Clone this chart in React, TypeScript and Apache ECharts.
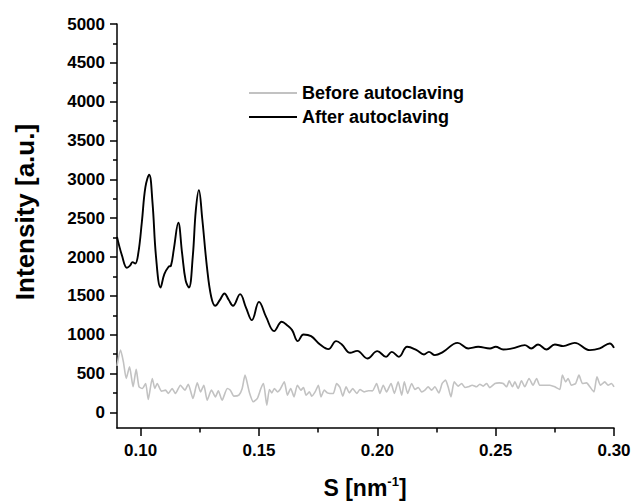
import React, { useEffect, useRef } from "react";
import * as echarts from "echarts";

// Tick positions
const xMajorTicks = [0.1, 0.15, 0.2, 0.25, 0.3];
const xMinorTicks = [0.125, 0.175, 0.225, 0.275];
const yMajorTicks = [0, 500, 1000, 1500, 2000, 2500, 3000, 3500, 4000, 4500, 5000];
const yMinorTicks = [250, 750, 1250, 1750, 2250, 2750, 3250, 3750, 4250, 4750];

const seriesNames = ["Before autoclaving", "After autoclaving"];

// Before autoclaving (gray)
const sBefore = [
  0.09, 0.0915, 0.0927, 0.0939, 0.0953, 0.0968, 0.0981, 0.0993, 0.1007, 0.1021,
  0.1032, 0.1049, 0.106, 0.107, 0.1088, 0.1105, 0.1117, 0.1133, 0.1147, 0.1168,
  0.1187, 0.1201, 0.1221, 0.1239, 0.1253, 0.1267, 0.1281, 0.1299, 0.1316, 0.1328,
  0.1344, 0.1366, 0.1379, 0.1394, 0.1415, 0.1429, 0.1441, 0.146, 0.1476, 0.1493,
  0.1508, 0.1519, 0.1533, 0.1544, 0.1554, 0.1565, 0.1578, 0.1589, 0.1607, 0.162,
  0.1634, 0.1648, 0.1662, 0.1677, 0.1688, 0.1699, 0.1713, 0.1723, 0.1737, 0.1751,
  0.1762, 0.1776, 0.1789, 0.18, 0.1814, 0.1828, 0.1842, 0.1854, 0.1868, 0.1882,
  0.1896, 0.1913, 0.1927, 0.1944, 0.1962, 0.1979, 0.1997, 0.2011, 0.2025, 0.2039,
  0.2058, 0.2072, 0.2088, 0.2103, 0.2114, 0.2128, 0.2145, 0.2159, 0.2173, 0.2187,
  0.2201, 0.2215, 0.2229, 0.2243, 0.226, 0.2274, 0.2288, 0.2299, 0.2311, 0.2325,
  0.2342, 0.2356, 0.237, 0.2384, 0.2401, 0.2419, 0.2433, 0.2447, 0.2462, 0.2475,
  0.2497, 0.2515, 0.2532, 0.2546, 0.2557, 0.2571, 0.2581, 0.2595, 0.2609, 0.2623,
  0.2641, 0.2658, 0.2673, 0.2686, 0.2708, 0.2729, 0.275, 0.2771, 0.2782, 0.2796,
  0.2806, 0.282, 0.2838, 0.2852, 0.2867, 0.2884, 0.2898, 0.2915, 0.2928, 0.2943,
  0.2961, 0.2975, 0.2989, 0.3,
];
const intensityBefore = [
  600, 802, 652, 438, 587, 330, 554, 330, 309, 373,
  167, 438, 309, 373, 274, 287, 245, 309, 245, 351,
  287, 364, 180, 381, 265, 351, 158, 287, 201, 278,
  158, 309, 287, 210, 223, 309, 480, 252, 137, 180,
  309, 373, 94, 296, 252, 309, 265, 296, 394, 223,
  309, 201, 351, 287, 322, 223, 265, 210, 265, 351,
  201, 287, 252, 245, 245, 373, 322, 210, 330, 252,
  309, 245, 296, 265, 280, 278, 373, 245, 351, 265,
  373, 245, 394, 223, 394, 245, 373, 296, 322, 265,
  287, 330, 287, 330, 252, 373, 416, 330, 201, 394,
  339, 373, 322, 330, 351, 330, 364, 339, 373, 320,
  373, 381, 373, 330, 407, 330, 394, 309, 407, 330,
  438, 351, 438, 351, 351, 351, 330, 296, 480, 394,
  438, 351, 373, 480, 373, 381, 330, 265, 458, 351,
  394, 351, 373, 330,
];

// After autoclaving (black)
const sAfter = [
  0.09, 0.0921, 0.0942, 0.0955, 0.0966, 0.0977, 0.099, 0.1005, 0.102, 0.1036,
  0.105, 0.1065, 0.1084, 0.11, 0.1118, 0.1128, 0.114, 0.1159, 0.1175, 0.119,
  0.1204, 0.122, 0.1233, 0.1246, 0.126, 0.128, 0.1298, 0.1315, 0.1335, 0.1354,
  0.1372, 0.139, 0.142, 0.1445, 0.147, 0.15, 0.153, 0.1564, 0.1596, 0.162,
  0.164, 0.1664, 0.1688, 0.172, 0.1758, 0.1793, 0.1826, 0.185, 0.1885, 0.1915,
  0.1958, 0.2, 0.2037, 0.2061, 0.2091, 0.2126, 0.2166, 0.2197, 0.2218, 0.2243,
  0.2278, 0.2339, 0.2384, 0.2426, 0.2476, 0.25, 0.2532, 0.257, 0.2623, 0.265,
  0.2679, 0.2715, 0.275, 0.2785, 0.2834, 0.2898, 0.294, 0.2982, 0.3,
];
const intensityAfter = [
  2260, 2020, 1862, 1890, 1935, 1918, 2050, 2450, 2900, 3060,
  2700, 2000, 1609, 1780, 1875, 1890, 2100, 2441, 2050, 1700,
  1609, 2000, 2600, 2862, 2500, 1875, 1489, 1373, 1450, 1532,
  1450, 1373, 1523, 1350, 1188, 1424, 1230, 1047, 1167, 1120,
  1060, 918, 1004, 982, 875, 815, 918, 875, 768, 793,
  695, 789, 716, 780, 716, 845, 802, 747, 780, 738,
  780, 896, 824, 845, 824, 845, 811, 824, 867, 824,
  875, 811, 875, 854, 896, 802, 824, 888, 832,
];

const FONT = "'Liberation Sans', Arial, Helvetica, sans-serif";

export default function App() {
  const ref = useRef<HTMLDivElement>(null);

  useEffect(() => {
    if (!ref.current) return;
    const chart = echarts.init(ref.current, null, { renderer: "svg" });

    const axisLineStyle = { color: "#000", width: 1.5 };

    const option: any = {
      animation: false,
      backgroundColor: "#fff",
      grid: {
        left: 117,
        right: 19,
        top: 24,
        bottom: 73,
        containLabel: false,
        outerBoundsMode: "none",
      },
      legend: {
        data: seriesNames,
        orient: "vertical",
        left: 249,
        top: 84,
        padding: 0,
        itemWidth: 48,
        itemHeight: 2,
        itemGap: 6,
        icon: "rect",
        textStyle: {
          fontFamily: FONT,
          fontWeight: "bold",
          fontSize: 18,
          lineHeight: 18,
          color: "#000",
        },
      },
      xAxis: [
        {
          type: "value",
          min: 0.09,
          max: 0.3,
          position: "bottom",
          axisLine: { show: true, lineStyle: axisLineStyle, onZero: false },
          axisTick: {
            show: true,
            inside: false,
            length: 8,
            lineStyle: { color: "#000", width: 1.5 },
            customValues: xMajorTicks,
          },
          axisLabel: {
            show: true,
            customValues: xMajorTicks,
            formatter: (v: number) => v.toFixed(2),
            margin: 14,
            fontFamily: FONT,
            fontWeight: "bold",
            fontSize: 17,
            color: "#000",
          },
          splitLine: { show: false },
        },
        {
          type: "value",
          min: 0.09,
          max: 0.3,
          position: "bottom",
          offset: 0,
          axisLine: { show: false, onZero: false },
          axisTick: {
            show: true,
            inside: false,
            length: 4.5,
            lineStyle: { color: "#000", width: 1.5 },
            customValues: xMinorTicks,
          },
          axisLabel: { show: false },
          splitLine: { show: false },
        },
      ],
      yAxis: [
        {
          type: "value",
          min: -200,
          max: 5000,
          position: "left",
          axisLine: { show: true, lineStyle: axisLineStyle, onZero: false },
          axisTick: {
            show: true,
            inside: false,
            length: 7,
            lineStyle: { color: "#000", width: 1.5 },
            customValues: yMajorTicks,
          },
          axisLabel: {
            show: true,
            customValues: yMajorTicks,
            formatter: (v: number) => String(v),
            margin: 12,
            fontFamily: FONT,
            fontWeight: "bold",
            fontSize: 17,
            color: "#000",
          },
          splitLine: { show: false },
        },
        {
          type: "value",
          min: -200,
          max: 5000,
          position: "left",
          offset: 0,
          axisLine: { show: false, onZero: false },
          axisTick: {
            show: true,
            inside: false,
            length: 4,
            lineStyle: { color: "#000", width: 1.5 },
            customValues: yMinorTicks,
          },
          axisLabel: { show: false },
          splitLine: { show: false },
        },
      ],
      graphic: [
        {
          type: "text",
          x: 25,
          y: 212,
          rotation: Math.PI / 2,
          style: {
            text: "Intensity [a.u.]",
            font: `bold 26px ${FONT}`,
            fill: "#000",
            align: "center",
            verticalAlign: "middle",
          },
        },
        {
          type: "text",
          x: 365,
          y: 488,
          style: {
            text: "{a|S [nm}{s|-1}{a|]}",
            fill: "#000",
            align: "center",
            verticalAlign: "middle",
            rich: {
              a: {
                fontFamily: FONT,
                fontWeight: "bold",
                fontSize: 23,
                lineHeight: 26,
                fill: "#000",
              },
              s: {
                fontFamily: FONT,
                fontWeight: "bold",
                fontSize: 13,
                lineHeight: 13,
                verticalAlign: "top",
                fill: "#000",
              },
            },
          },
        },
      ],
      series: [
        {
          name: seriesNames[0],
          type: "line",
          xAxisIndex: 0,
          yAxisIndex: 0,
          data: sBefore.map((s, i) => [s, intensityBefore[i]]),
          showSymbol: false,
          symbol: "none",
          smooth: 0.2,
          lineStyle: { color: "#c2c2c2", width: 1.6 },
          itemStyle: { color: "#c2c2c2" },
          z: 2,
        },
        {
          name: seriesNames[1],
          type: "line",
          xAxisIndex: 0,
          yAxisIndex: 0,
          data: sAfter.map((s, i) => [s, intensityAfter[i]]),
          showSymbol: false,
          symbol: "none",
          smooth: 0.4,
          lineStyle: { color: "#000", width: 1.9 },
          itemStyle: { color: "#000" },
          z: 3,
        },
      ],
    };

    chart.setOption(option);
    return () => {
      chart.dispose();
    };
  }, []);

  return (
    <div
      ref={ref}
      style={{
        position: "fixed",
        left: 0,
        top: 0,
        width: 633,
        height: 501,
        background: "#fff",
      }}
    />
  );
}
